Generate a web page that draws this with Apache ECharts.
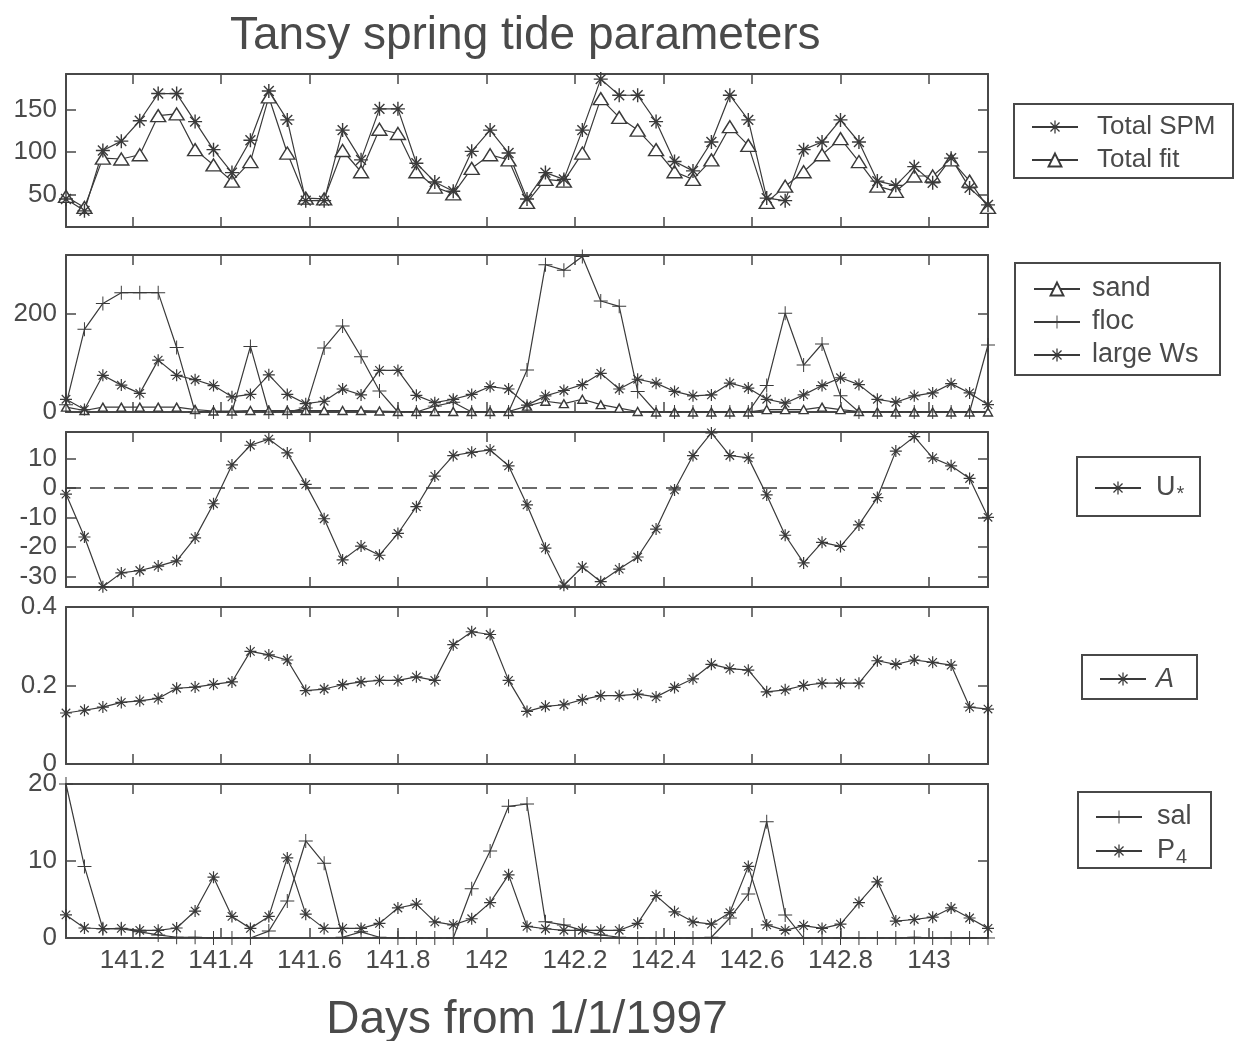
<!DOCTYPE html>
<html><head><meta charset="utf-8">
<script src="https://cdn.jsdelivr.net/npm/echarts@6/dist/echarts.min.js"></script>
<style>html,body{margin:0;padding:0;background:#fff}#c{width:1240px;height:1041px}</style>
</head><body><div id="c"></div>
<script>
// ---- data (hourly samples) ----
const times = [141.0500,141.0917,141.1333,141.1750,141.2167,141.2583,141.3000,141.3417,141.3833,141.4250,
141.4667,141.5083,141.5500,141.5917,141.6333,141.6750,141.7167,141.7583,141.8000,141.8417,
141.8833,141.9250,141.9667,142.0083,142.0500,142.0917,142.1333,142.1750,142.2167,142.2583,
142.3000,142.3417,142.3833,142.4250,142.4667,142.5083,142.5500,142.5917,142.6333,142.6750,
142.7167,142.7583,142.8000,142.8417,142.8833,142.9250,142.9667,143.0083,143.0500,143.0917,143.1333];
const xTickValues = [141.2,141.4,141.6,141.8,142,142.2,142.4,142.6,142.8,143];

const totalSPM = [45,31,102,113,137,169,169,136,103,76,114,172,138,43,43,126,91,151,151,87,65,54,101,126,99,45,76,68,126,186,167,167,136,89,78,112,167,138,46,43,103,112,138,112,66,61,83,64,93,58,38];
const totalFit = [48,35,93,92,97,143,145,103,85,66,89,165,99,46,45,102,77,127,122,77,59,51,81,97,91,41,68,66,99,163,141,126,103,77,68,91,130,108,41,60,77,97,116,89,60,54,72,72,91,66,35];

const sand = [10,3,10,10,10,10,10,5,2,2,3,3,3,3,3,3,3,2,1,1,1,1,1,1,1,12,22,17,26,15,8,1,0,0,0,0,0,0,5,5,5,10,5,1,0,0,0,0,0,0,0];
const floc = [15,169,222,244,244,244,132,0,0,0,134,0,0,8,131,176,113,43,0,0,12,20,0,0,0,86,301,290,318,227,216,42,0,0,0,0,0,0,54,202,96,139,33,0,0,0,0,0,0,0,137];
const largeWs = [26,5,75,55,38,106,75,66,54,31,36,76,36,17,22,47,35,85,85,34,19,26,36,52,47,14,33,44,56,79,47,67,59,42,33,35,59,49,26,18,35,54,70,56,26,20,33,39,58,39,15];

const uStar = [-2.0,-16.6,-33.5,-28.8,-28.0,-26.5,-24.7,-16.9,-5.3,7.9,14.6,16.7,12.0,1.3,-10.4,-24.4,-19.7,-22.8,-15.4,-6.3,4.1,11.1,12.2,13.0,7.6,-5.7,-20.4,-33.0,-26.8,-31.8,-27.5,-23.4,-13.9,-0.6,11.1,18.8,11.1,10.3,-2.3,-16.0,-25.4,-18.4,-19.8,-12.5,-3.2,12.6,17.5,10.3,7.6,3.3,-9.9];

const aParam = [0.130,0.137,0.145,0.157,0.161,0.167,0.193,0.196,0.203,0.209,0.287,0.278,0.265,0.187,0.191,0.202,0.209,0.213,0.213,0.222,0.213,0.304,0.337,0.330,0.213,0.134,0.147,0.151,0.164,0.174,0.174,0.178,0.171,0.195,0.217,0.254,0.243,0.239,0.184,0.189,0.200,0.206,0.206,0.206,0.263,0.254,0.265,0.259,0.252,0.145,0.140];

const sal = [20,9.3,1.2,1.2,0.8,0.4,0.1,0.1,0,0,0,0.9,4.8,12.6,9.7,0.1,0.8,0.1,0,0,0,0,6.4,11.3,17.1,17.4,2.1,1.7,1.0,0.4,0.1,0,0,0,0,0.1,2.6,5.7,15.1,3.0,0,0,0,0,0,0,0.1,0,0,0,0];
const p4 = [3.0,1.3,1.2,1.25,1.0,1.0,1.3,3.5,7.9,2.8,1.25,2.8,10.4,3.1,1.25,1.25,1.25,1.9,3.9,4.4,2.1,1.7,2.5,4.6,8.2,1.5,1.2,1.0,1.0,1.0,1.0,1.9,5.5,3.4,2.1,1.8,3.3,9.3,1.7,1.0,1.6,1.25,1.8,4.6,7.3,2.2,2.4,2.7,3.9,2.6,1.25];

const yRanges = [[12,192],[0,321],[-33.6,19.1],[0,0.4],[0,20]];
const yTickValues = [[50,100,150],[0,200],[-30,-20,-10,0,10],[0,0.2,0.4],[0,10,20]];

// ---- styling ----
const FONT = "'Liberation Sans', Arial, sans-serif";
const LINE = '#3a3a3a', AXIS = '#484848', TXT = '#4a4a4a';
const GL = 66, GW = 922;
const grids = [{top:74,height:153},{top:255,height:157},{top:432,height:155},{top:607,height:157},{top:784,height:154}];

function barsPath(angles, w){
  const L = 10, W = w*10; let p = '';
  angles.forEach(a=>{
    const r=a*Math.PI/180, c=Math.cos(r), s=Math.sin(r);
    const pts=[[L*c-W*s,L*s+W*c],[L*c+W*s,L*s-W*c],[-L*c+W*s,-L*s-W*c],[-L*c-W*s,-L*s+W*c]];
    p+='M'+pts.map(q=>q[0].toFixed(3)+','+q[1].toFixed(3)).join('L')+'Z';
  });
  return 'path://'+p;
}
const STAR = barsPath([0,45,90,135],0.1);
const PLUS = barsPath([0,90],0.07);

const xAxes=[], yAxes=[];
grids.forEach((g,i)=>{
  const tickX = {inside:true,length:10,customValues:xTickValues,lineStyle:{color:AXIS,width:1.5}};
  const axL = {onZero:false,lineStyle:{color:AXIS,width:2}};
  xAxes.push({gridIndex:i,type:'value',min:times[0],max:times[times.length-1],position:'bottom',
    axisLine:axL,axisTick:tickX,splitLine:{show:false},
    axisLabel:{show:i===4,customValues:xTickValues,color:TXT,fontFamily:FONT,fontSize:26,margin:10,
      formatter:v=>String(+(+v).toFixed(1))},
    name: i===4?'Days from 1/1/1997':'', nameLocation:'middle', nameGap:59,
    nameTextStyle:{color:TXT,fontFamily:FONT,fontSize:46}});
  xAxes.push({gridIndex:i,type:'value',min:times[0],max:times[times.length-1],position:'top',
    axisLine:axL,axisTick:tickX,axisLabel:{show:false},splitLine:{show:false}});
  const tickY = {inside:true,length:10,customValues:yTickValues[i],lineStyle:{color:AXIS,width:1.5}};
  yAxes.push({gridIndex:i,type:'value',min:yRanges[i][0],max:yRanges[i][1],position:'left',
    axisLine:{show:true,onZero:false,lineStyle:{color:AXIS,width:2}},axisTick:tickY,splitLine:{show:false},
    axisLabel:{customValues:yTickValues[i],color:TXT,fontFamily:FONT,fontSize:26,margin:9}});
  yAxes.push({gridIndex:i,type:'value',min:yRanges[i][0],max:yRanges[i][1],position:'right',
    axisLine:{show:true,onZero:false,lineStyle:{color:AXIS,width:2}},axisTick:tickY,splitLine:{show:false},
    axisLabel:{show:false}});
});

function mk(name,g,arr,symbol,size,tri){
  return {name,type:'line',xAxisIndex:2*g,yAxisIndex:2*g,data:times.map((t,k)=>[t,arr[k]]),
    symbol,symbolSize:size,showAllSymbol:true,animation:false,
    lineStyle:{color:LINE,width:1.2},
    itemStyle: tri?{color:'#fff',borderColor:LINE,borderWidth:1.4}:{color:LINE,borderWidth:0},
    emphasis:{disabled:true}};
}

const uSeries = mk('U*',2,uStar,STAR,12,false);
uSeries.markLine = {silent:true,symbol:'none',label:{show:false},animation:false,
  lineStyle:{color:LINE,type:[15,9],width:1.5},data:[{yAxis:0}]};

const series = [
  mk('Total fit',0,totalFit,'triangle',[15,12],true),
  mk('Total SPM',0,totalSPM,STAR,14,false),
  mk('sand',1,sand,'triangle',[9,8],true),
  mk('floc',1,floc,PLUS,14,false),
  mk('large Ws',1,largeWs,STAR,12,false),
  uSeries,
  mk('A',3,aParam,STAR,12,false),
  mk('sal',4,sal,PLUS,14,false),
  mk('P4',4,p4,STAR,12,false)
];

function legTxt(padLeft, size){
  return {color:TXT,fontFamily:FONT,fontSize:size,lineHeight:28,padding:[0,0,0,padLeft],
    rich:{sub:{fontFamily:FONT,fontSize:20,color:TXT,padding:[12,0,0,1]},
          it:{fontFamily:FONT,fontSize:size,fontStyle:'italic',color:TXT}}};
}
const legendFmt = n => n==='U*'?'U{sub|*}':n==='P4'?'P{sub|4}':n==='A'?'{it|A}':n;
function leg(data,left,top,gap,padLeft,size){
  return {data,left,top,orient:'vertical',itemGap:gap,itemWidth:46,itemHeight:16,
    padding:0,selectedMode:false,textStyle:legTxt(padLeft,size),formatter:legendFmt};
}

const boxes = [[1014,104,219,74],[1015,263,205,112],[1077,457,123,59],[1082,655,115,44],[1078,792,133,76]];

const option = {
  backgroundColor:'#fff',
  animation:false,
  title:{text:'Tansy spring tide parameters',left:230,top:13,padding:0,
    textStyle:{color:TXT,fontFamily:FONT,fontSize:46,fontWeight:'normal'}},
  grid:grids.map(g=>({left:GL,width:GW,top:g.top,height:g.height,containLabel:false,outerBoundsMode:'none'})),
  xAxis:xAxes, yAxis:yAxes,
  legend:[
    leg(['Total SPM','Total fit'],1031,113,5,14,26),
    leg(['sand','floc','large Ws'],1033,275,5,7,27),
    leg(['U*'],1094,474,5,10,27),
    leg(['A'],1099,665,5,5,27),
    leg(['sal','P4'],1095,803,6,10,27)
  ],
  graphic: boxes.map(b=>({type:'rect',shape:{x:b[0],y:b[1],width:b[2],height:b[3]},
    style:{fill:'none',stroke:AXIS,lineWidth:2},silent:true,z:-1})),
  series
};
const chart = echarts.init(document.getElementById('c'),null,{renderer:'canvas'});
chart.setOption(option);
</script></body></html>
